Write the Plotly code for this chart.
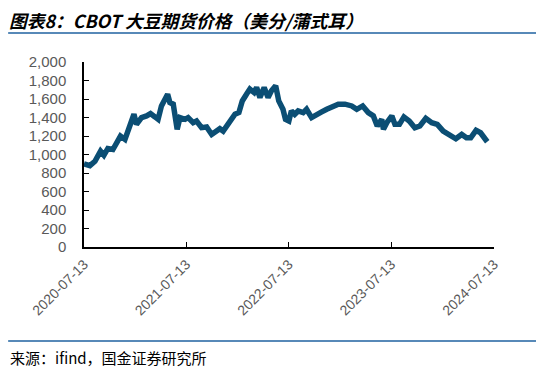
import plotly.graph_objects as go

dates = ["2020-07-13","2020-08-03","2020-08-21","2020-09-10","2020-09-22","2020-10-06","2020-10-24",
         "2020-11-07","2020-11-20","2020-12-06","2020-12-23","2021-01-07","2021-01-16","2021-02-03",
         "2021-02-21","2021-03-07","2021-03-23","2021-04-03","2021-04-15","2021-05-07","2021-05-15",
         "2021-05-27","2021-06-10","2021-06-20","2021-07-08","2021-07-19","2021-08-06","2021-08-18",
         "2021-09-05","2021-09-23","2021-10-11","2021-10-28","2021-11-09","2021-11-21","2021-12-15",
         "2022-01-02","2022-01-16","2022-01-28","2022-02-12","2022-02-24","2022-03-11","2022-03-20",
         "2022-04-01","2022-04-16","2022-04-30","2022-05-12","2022-05-27","2022-06-07","2022-06-22",
         "2022-07-01","2022-07-13","2022-07-22","2022-08-03","2022-08-15","2022-09-02","2022-09-14",
         "2022-10-02","2022-10-20","2022-11-07","2022-11-25","2022-12-13","2023-01-05","2023-01-29",
         "2023-02-22","2023-03-12","2023-04-02","2023-04-22","2023-05-10","2023-05-24","2023-06-09",
         "2023-06-15","2023-06-27","2023-07-15","2023-07-26","2023-08-11","2023-08-27","2023-09-15",
         "2023-10-05","2023-10-23","2023-11-13","2023-12-04","2023-12-24","2024-01-14","2024-02-07",
         "2024-02-28","2024-03-20","2024-04-06","2024-04-21","2024-05-10","2024-05-26","2024-06-10",
         "2024-06-19"]
prices = [899, 880, 927, 1036, 992, 1065, 1054,
          1145, 1199, 1163, 1326, 1435, 1326, 1399,
          1417, 1442, 1406, 1380, 1525, 1652, 1562,
          1544, 1272, 1399, 1380, 1399, 1344, 1362,
          1290, 1297, 1217, 1248, 1279, 1253, 1362,
          1435, 1453, 1579, 1652, 1707, 1670, 1725,
          1616, 1725, 1616, 1688, 1743, 1579, 1489,
          1380, 1362, 1471, 1435, 1471, 1453, 1489,
          1399, 1435, 1460, 1489, 1507, 1544, 1544,
          1525, 1489, 1525, 1453, 1417, 1308, 1380,
          1272, 1344, 1417, 1326, 1326, 1406, 1362,
          1290, 1308, 1391, 1344, 1326, 1253, 1210,
          1170, 1217, 1181, 1181, 1261, 1235, 1181,
          1138]

tick_dates = ["2020-07-13", "2021-07-13", "2022-07-13", "2023-07-13", "2024-07-13"]
tick_labels = tick_dates

title = "图表8：CBOT 大豆期货价格（美分/蒲式耳）"
source = "来源：ifind，国金证券研究所"

fig = go.Figure()
fig.add_trace(go.Scatter(x=dates, y=prices, mode="lines",
                         line=dict(color="#0b4e74", width=5.5), hoverinfo="skip"))

fig.update_layout(
    width=536, height=365,
    margin=dict(l=76, r=50, t=54, b=126, autoexpand=False),
    plot_bgcolor="white", paper_bgcolor="white",
    showlegend=False,
    font=dict(family="Liberation Sans, Arial", color="#595959", size=14),
    xaxis=dict(range=["2020-07-13", "2024-07-13"], type="date",
               tickvals=tick_dates, ticktext=tick_labels, tickangle=-45,
               showgrid=False, zeroline=False, showline=True, linecolor="black", linewidth=1.5,
               ticks="inside", ticklen=5, tickcolor="black", automargin=False,
               ticklabelstandoff=2,
               tickfont=dict(size=14, color="#595959")),
    yaxis=dict(range=[0, 2000], dtick=200, tickformat=",",
               showgrid=False, zeroline=False, showline=True, linecolor="black", linewidth=1.5,
               ticks="inside", ticklen=5, tickcolor="black", automargin=False,
               ticklabelstandoff=13,
               tickfont=dict(size=15, color="#595959")),
)

fig.add_shape(type="line", xref="paper", yref="paper", x0=-0.185, x1=1.11, y0=1.157, y1=1.157,
              line=dict(color="#1f62a0", width=1.5))
fig.add_shape(type="line", xref="paper", yref="paper", x0=-0.185, x1=1.11, y0=-0.508, y1=-0.508,
              line=dict(color="#1f62a0", width=1.5))
fig.add_annotation(text="<b><i>" + title + "</i></b>", xref="paper", yref="paper",
                   x=-0.185, y=1.228, xanchor="left", yanchor="middle", showarrow=False,
                   borderpad=0,
                   font=dict(family="Noto Sans CJK SC", size=17.8, color="black"))
fig.add_annotation(text=source, xref="paper", yref="paper",
                   x=-0.185, y=-0.595, xanchor="left", yanchor="middle", showarrow=False,
                   font=dict(family="Noto Sans CJK SC", size=15, color="black"))

fig.write_html("out.html")
